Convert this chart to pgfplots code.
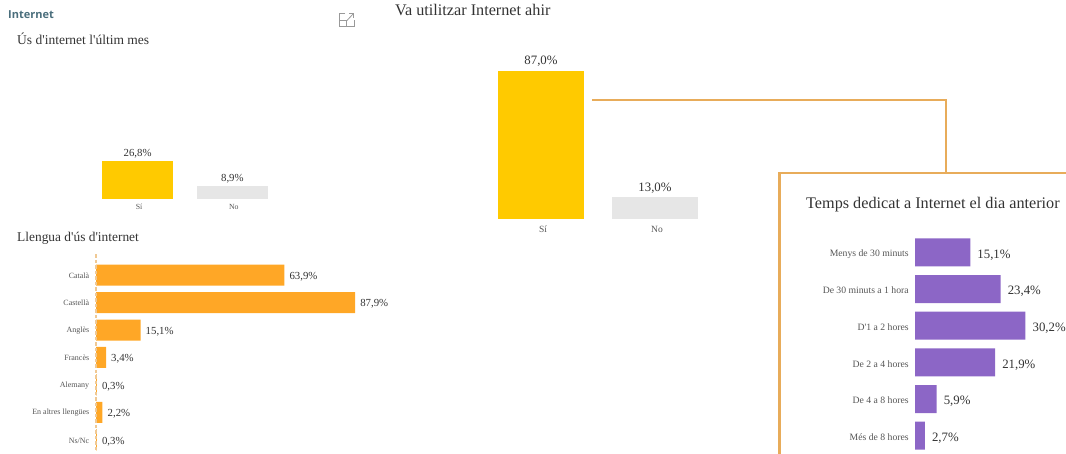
\documentclass[border=0pt]{standalone}
\usepackage{fontspec}
\setmainfont{Liberation Serif}[Ligatures=TeXOff]
\newfontfamily\headfont{Open Sans}
\usepackage{pgfplots}
\pgfplotsset{compat=1.18}
\definecolor{gold}{HTML}{FFCA00}
\definecolor{lightg}{HTML}{E6E6E6}
\definecolor{orangebar}{HTML}{FFA726}
\definecolor{purplebar}{HTML}{8C66C6}
\definecolor{frameor}{HTML}{E8AC5A}
\definecolor{txt}{HTML}{333333}
\definecolor{ticktxt}{HTML}{555555}
\definecolor{headc}{HTML}{4A6E7C}
\newcommand{\fs}[1]{\fontsize{#1pt}{#1pt}\selectfont}
\pgfplotsset{
  base/.style={
    scale only axis, anchor=south west, clip=false,
    axis line style={draw=none}, major tick style={draw=none},
    tick align=outside, tick label style={text=ticktxt},
    /pgf/number format/assume math mode=true,
    /pgf/number format/use comma, /pgf/number format/fixed,
    /pgf/number format/fixed zerofill, /pgf/number format/precision=1,
    nodes near coords={\pgfmathprintnumber{\pgfplotspointmeta}\%},
  },
  vbars/.style={base, ybar, ymin=0, xmin=-0.5, xmax=1.5, xtick=data,
    ytick=\empty, xticklabels={Sí,No}, point meta=y},
  hbars/.style={base, xbar, xmin=0, ytick=data, xtick=\empty, y dir=reverse, point meta=x},
}
\begin{document}
\begin{tikzpicture}[x=1pt,y=1pt]
\useasboundingbox (0,0) rectangle (1066,453);
% connector and frame
\draw[frameor,line width=2.6pt] (592,353) -- (946,353) -- (946,281);
\draw[frameor,line width=2.8pt] (779.5,-5) -- (779.5,280) -- (1075,280);
% headings
\node[anchor=west,text=headc,inner sep=0] at (8,438) {\headfont\fs{11}\bfseries Internet};
\node[anchor=west,text=txt,inner sep=0] at (17,414) {\fs{13.5}Ús d'internet l'últim mes};
\node[anchor=west,text=txt,inner sep=0] at (17,214.5) {\fs{13.4}Llengua d'ús d'internet};
\node[anchor=west,text=txt,inner sep=0] at (395,443) {\fs{16.2}Va utilitzar Internet ahir};
\node[anchor=west,text=txt,inner sep=0] at (806,248) {\fs{16.2}Temps dedicat a Internet el dia anterior};
% expand icon
\draw[gray!80,line width=0.8pt] (345,439.5) -- (339,439.5) -- (339,427) -- (354,427) -- (354,433);
\draw[gray!80,line width=0.8pt] (339,433) -- (346,433) -- (346,427);
\draw[gray!80,line width=0.8pt] (347,432.5) -- (353.5,439.5) (349,439.5) -- (353.5,439.5) -- (353.5,435);
% Us d'internet
\begin{axis}[vbars, at={(90.25pt,254pt)}, width=189.5pt, height=42.5pt, ymax=30, bar width=71.5pt,
  tick label style={font=\fs{7.8}}, nodes near coords style={font=\fs{10.8},text=txt,inner sep=3pt},
  xticklabel style={yshift=2.5pt,xshift=1.5pt}]
\addplot+[draw=none,fill=gold,forget plot,bar shift=0pt] coordinates {(0,26.8)};
\addplot+[draw=none,fill=lightg,forget plot,bar shift=0pt] coordinates {(1,8.9)};
\end{axis}
% Va utilitzar
\begin{axis}[vbars, at={(484pt,233.5pt)}, width=228pt, height=170.7pt, ymax=100, bar width=86pt,
  tick label style={font=\fs{9.5}}, nodes near coords style={font=\fs{12.8},text=txt,inner sep=4pt},
  xticklabel style={yshift=1pt,xshift=2pt}]
\addplot+[draw=none,fill=gold,forget plot,bar shift=0pt] coordinates {(0,87.0)};
\addplot+[draw=none,fill=lightg,forget plot,bar shift=0pt] coordinates {(1,13.0)};
\end{axis}
% Llengua
\begin{axis}[hbars, at={(96pt,1.2pt)}, width=280pt, height=197.4pt, xmax=95, ymin=-0.75, ymax=6.43, bar width=21pt,
  yticklabels={Català,Castellà,Anglès,Francès,Alemany,En altres llengües,Ns/Nc},
  tick label style={font=\fs{8}}, yticklabel style={xshift=1pt,yshift=-0.5pt},
  nodes near coords style={font=\fs{10.8},text=txt,inner sep=5pt,yshift=-1.5pt},
  axis on top,
  axis y line*=left, axis x line=none,
  y axis line style={draw=frameor!65,line width=1.1pt,dash pattern=on 3.5pt off 2pt,-}]
\addplot+[draw=none,fill=orangebar,forget plot,bar shift=0pt] coordinates {(63.9,0) (87.9,1) (15.1,2) (3.4,3) (0.3,4) (2.2,5) (0.3,6)};
\end{axis}
% Temps
\begin{axis}[hbars, at={(915pt,0.8pt)}, width=150pt, height=218.2pt, xmax=41, ymin=-0.5, ymax=5.45, bar width=28pt,
  yticklabels={Menys de 30 minuts,De 30 minuts a 1 hora,D'1 a 2 hores,De 2 a 4 hores,De 4 a 8 hores,Més de 8 hores},
  tick label style={font=\fs{9.7}}, yticklabel style={xshift=1.5pt,yshift=-1.5pt},
  nodes near coords style={font=\fs{12.8},text=txt,inner sep=7pt,yshift=-2.5pt}]
\addplot+[draw=none,fill=purplebar,forget plot,bar shift=0pt] coordinates {(15.1,0) (23.4,1) (30.2,2) (21.9,3) (5.9,4) (2.7,5)};
\end{axis}
\end{tikzpicture}
\end{document}
